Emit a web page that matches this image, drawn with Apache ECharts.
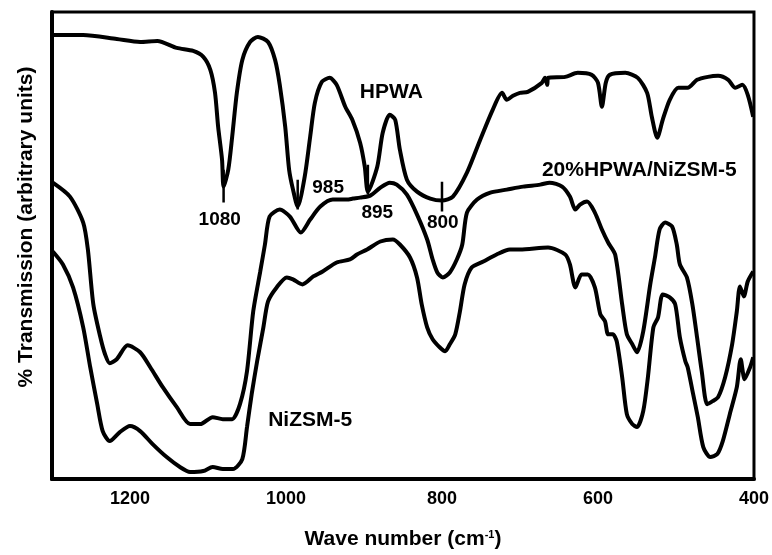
<!DOCTYPE html>
<html><head><meta charset="utf-8">
<script src="https://cdn.jsdelivr.net/npm/echarts@6/dist/echarts.min.js"></script>
<style>html,body{margin:0;padding:0;background:#fff}#c{width:772px;height:555px}</style>
</head><body><div id="c"></div>
<script>
// Wavenumber (cm-1) and transmission (arbitrary units)
const hpwaWn = [1299,1260,1217,1187,1165,1140,1119,1106,1097,1091,1087,1082,1080,1074,1069,1063,1056,1046,1036,1023,1014,1008,1001,996,991,985,976,969,963,954,944,935,924,915,905,899,895,883,876,867,860,854,845,832,815,800,786,768,751,735,723,717,709,700,690,672,668,665,664,642,626,608,600,595,590,585,565,549,537,531,524,517,508,497,485,473,459,446,433,424,415,408,401];
const hpwaT  = [445,445,441,438,439,432,429,423,410,387,353,320,293,310,343,387,420,438,443,438,420,395,353,310,290,273,303,343,377,398,402,395,373,360,337,313,288,313,347,365,360,330,300,288,281,279,283,307,340,370,387,380,384,387,388,397,402,395,402,403,407,405,397,373,397,405,407,402,387,363,342,360,380,392,392,400,403,404,400,392,395,385,363];

const compWn = [1299,1277,1260,1254,1247,1238,1232,1226,1217,1203,1187,1174,1158,1140,1123,1110,1094,1081,1069,1059,1050,1042,1033,1027,1021,1008,995,981,969,956,940,922,914,905,892,879,867,858,845,832,819,812,806,799,790,781,774,768,755,738,717,696,674,662,646,636,629,623,614,604,595,587,578,569,563,556,550,542,533,527,521,514,505,499,495,486,479,473,467,460,453,446,437,428,422,418,413,408,401];
const compT  = [297,283,257,230,175,142,125,116,120,134,127,112,92,72,55,55,62,60,60,75,108,168,208,235,263,270,263,247,260,273,280,280,281,282,284,292,297,295,285,265,240,220,207,202,207,220,235,267,280,287,290,293,295,297,293,283,270,275,278,267,250,237,225,175,145,135,127,148,195,222,250,257,253,235,215,202,175,142,108,75,78,82,102,135,168,193,183,198,208];

const nizWn = [1299,1286,1273,1260,1251,1242,1235,1226,1213,1200,1187,1171,1153,1136,1123,1106,1094,1081,1068,1056,1050,1044,1037,1029,1023,1012,999,991,979,965,953,935,918,909,896,879,863,854,841,832,826,819,812,803,796,790,783,777,771,762,747,730,713,700,664,642,636,629,621,613,604,597,591,587,581,576,569,563,556,550,542,536,529,523,517,508,501,495,488,485,478,472,465,456,447,440,431,422,417,412,405,401];
const nizT  = [228,215,192,152,112,75,48,38,47,53,48,35,22,12,7,8,12,10,10,20,52,85,118,152,178,192,202,200,195,203,208,217,220,225,230,238,240,235,222,202,175,152,140,132,128,135,145,168,195,212,218,225,230,230,232,225,215,192,205,205,192,165,158,145,145,138,102,65,55,52,68,102,152,162,185,182,175,142,118,112,85,62,32,22,25,38,65,92,120,100,112,122];

const xTicks = [1200,1000,800,600,400];

// annotations
const annotText = ['HPWA','20%HPWA/NiZSM-5','NiZSM-5','1080','985','895','800'];
const annotWn   = [865, 547, 969, 1085, 946, 883, 799];
const annotT    = [388, 309, 59, 260, 292, 267, 257];
const annotSize = [21, 21, 21, 19, 19, 19, 19];

const markWn  = [1080, 985, 895, 800];
const markTop = [310, 300, 315, 298];
const markBot = [277, 270, 285, 268];

const F = '"Liberation Sans", Arial, Helvetica, sans-serif';
const zip = (a, b) => a.map((v, i) => [v, b[i]]);

const curveStyle = {type:'line', showSymbol:false, smooth:0.25, lineStyle:{color:'#000', width:4}, z:3, silent:true};

const series = [
  Object.assign({name:'HPWA', data: zip(hpwaWn, hpwaT)}, curveStyle),
  Object.assign({name:'20%HPWA/NiZSM-5', data: zip(compWn, compT)}, curveStyle),
  Object.assign({name:'NiZSM-5', data: zip(nizWn, nizT)}, curveStyle)
];
markWn.forEach((w, i) => {
  series.push({type:'line', showSymbol:false, silent:true, z:4,
    lineStyle:{color:'#000', width:2.5},
    data:[[w, markTop[i]], [w, markBot[i]]]});
});
series.push({
  type:'scatter', symbol:'circle', symbolSize:0.1, itemStyle:{color:'#fff', opacity:1}, silent:true, z:5,
  emphasis:{disabled:true},
  data: annotText.map((t, i) => ({name:t, value:[annotWn[i], annotT[i]],
    label:{show:true, fontSize: annotSize[i], color:'#000', opacity:1, fontWeight:'bold', fontFamily:F}})),
  label:{show:true, position:'inside', formatter: p => p.name, color:'#000', opacity:1,
    fontWeight:'bold', fontFamily:F, textBorderWidth:0}
});

const chart = echarts.init(document.getElementById('c'), null, {renderer:'canvas'});
chart.setOption({
  animation:false,
  backgroundColor:'#fff',
  grid:{left:52, right:18, top:12, bottom:75, show:true, borderColor:'#000', borderWidth:3},
  xAxis:{
    type:'value', min:400, max:1300, interval:200, inverse:true,
    axisLine:{show:true, onZero:false, lineStyle:{color:'#000', width:4}},
    axisTick:{show:false}, splitLine:{show:false},
    axisLabel:{color:'#000', fontWeight:'bold', fontSize:18, fontFamily:F, margin:11,
      showMaxLabel:false,
      formatter: v => xTicks.indexOf(v) >= 0 ? String(v) : ''},
    name:'Wave number (cm{sup|-1})', nameLocation:'middle', nameGap:50,
    nameTextStyle:{color:'#000', fontWeight:'bold', fontSize:21, fontFamily:F,
      rich:{sup:{fontSize:11, fontWeight:'bold', fontFamily:F, color:'#000', verticalAlign:'top', padding:[0,0,10,0]}}}
  },
  yAxis:{
    type:'value', min:0, max:468,
    axisLine:{show:true, lineStyle:{color:'#000', width:4}},
    axisTick:{show:false}, axisLabel:{show:false}, splitLine:{show:false}
  },
  graphic:[{
    type:'text', x:26, y:227, rotation:Math.PI/2,
    style:{text:'% Transmission (arbitrary units)', font:'bold 21px ' + F,
      textAlign:'center', textVerticalAlign:'middle', fill:'#000'}
  }],
  series: series
});
</script></body></html>
